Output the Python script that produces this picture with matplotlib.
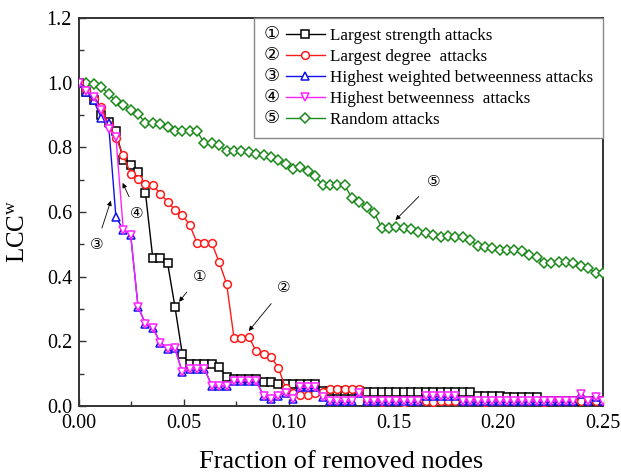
import numpy as np
import matplotlib
matplotlib.use("Agg")
import matplotlib.pyplot as plt
from matplotlib.legend_handler import HandlerLine2D
from matplotlib.text import Text

plt.rcParams['font.family'] = ['Liberation Serif', 'DejaVu Sans']
plt.rcParams['mathtext.fontset'] = 'custom'
plt.rcParams['mathtext.rm'] = 'Liberation Serif'
plt.rcParams['mathtext.it'] = 'Liberation Serif:italic'

# ---------------- data ----------------
n_nodes = 284  # fraction of removed nodes = k / n_nodes

strength = [1.0, 0.97, 0.945, 0.90, 0.877, 0.849, 0.762, 0.745, 0.724, 0.66,
            0.457, 0.457, 0.442, 0.307, 0.16, 0.13, 0.13, 0.13, 0.13, 0.12,
            0.09, 0.083, 0.083, 0.083, 0.083, 0.075, 0.075, 0.068, 0.068, 0.068,
            0.068, 0.068, 0.068, 0.045, 0.045, 0.045, 0.045, 0.045, 0.045, 0.042,
            0.042, 0.042, 0.042, 0.042, 0.042, 0.042, 0.042, 0.042, 0.042, 0.042,
            0.042, 0.042, 0.042, 0.042, 0.032, 0.032, 0.032, 0.032, 0.027, 0.027,
            0.027, 0.027, 0.027, 0.015, 0.015, 0.015, 0.015, 0.015, 0.015, 0.015,
            0.015, 0.015]

degree = [1.0, 0.975, 0.95, 0.924, 0.87, 0.83, 0.775, 0.719, 0.702, 0.688,
          0.683, 0.657, 0.632, 0.606, 0.591, 0.56, 0.504, 0.504, 0.504, 0.444,
          0.378, 0.211, 0.211, 0.214, 0.17, 0.16, 0.153, 0.119, 0.055, 0.04,
          0.035, 0.035, 0.04, 0.042, 0.052, 0.052, 0.052, 0.052, 0.052, 0.015,
          0.015, 0.012, 0.015, 0.015, 0.01, 0.015, 0.015, 0.015, 0.012, 0.015,
          0.015, 0.015, 0.015, 0.015, 0.015, 0.012, 0.015, 0.015, 0.015, 0.015,
          0.015, 0.015, 0.015, 0.012, 0.015, 0.015, 0.015, 0.015, 0.015, 0.015,
          0.015, 0.015]

w_betweenness = [1.0, 0.97, 0.945, 0.891, 0.875, 0.585, 0.545, 0.53, 0.307, 0.255,
                 0.242, 0.196, 0.175, 0.178, 0.104, 0.115, 0.115, 0.115, 0.0625, 0.0625,
                 0.0625, 0.078, 0.078, 0.078, 0.078, 0.032, 0.022, 0.032, 0.04, 0.022,
                 0.058, 0.058, 0.058, 0.028, 0.016, 0.016, 0.016, 0.016, 0.04, 0.016,
                 0.016, 0.016, 0.016, 0.016, 0.016, 0.016, 0.016, 0.032, 0.032, 0.032,
                 0.032, 0.032, 0.016, 0.016, 0.016, 0.016, 0.016, 0.016, 0.016, 0.016,
                 0.016, 0.016, 0.016, 0.016, 0.016, 0.016, 0.016, 0.016, 0.037, 0.016,
                 0.028, 0.016]

betweenness = [1.0, 0.975, 0.955, 0.914, 0.857, 0.832, 0.545, 0.53, 0.307, 0.255,
               0.242, 0.196, 0.175, 0.178, 0.104, 0.115, 0.115, 0.115, 0.0625, 0.0625,
               0.0625, 0.078, 0.078, 0.078, 0.078, 0.032, 0.022, 0.032, 0.04, 0.022,
               0.058, 0.058, 0.058, 0.028, 0.016, 0.016, 0.016, 0.016, 0.04, 0.016,
               0.016, 0.016, 0.016, 0.016, 0.016, 0.016, 0.016, 0.032, 0.032, 0.032,
               0.032, 0.032, 0.016, 0.016, 0.016, 0.016, 0.016, 0.016, 0.016, 0.016,
               0.016, 0.016, 0.016, 0.016, 0.016, 0.016, 0.016, 0.016, 0.037, 0.016,
               0.028, 0.016]

random_att = [1.0, 0.996, 0.988, 0.965, 0.944, 0.931, 0.914, 0.904, 0.875, 0.875,
              0.871, 0.862, 0.849, 0.849, 0.849, 0.849, 0.813, 0.813, 0.806, 0.789,
              0.789, 0.789, 0.786, 0.78, 0.775, 0.770, 0.76, 0.75, 0.734, 0.739,
              0.726, 0.711, 0.685, 0.685, 0.685, 0.683, 0.642, 0.632, 0.616, 0.598,
              0.552, 0.550, 0.555, 0.550, 0.547, 0.539, 0.534, 0.529, 0.524, 0.526,
              0.524, 0.524, 0.514, 0.495, 0.493, 0.490, 0.483, 0.483, 0.483, 0.478,
              0.468, 0.462, 0.442, 0.442, 0.444, 0.444, 0.442, 0.432, 0.427, 0.411,
              0.411]

labels = ["Largest strength attacks", "Largest degree  attacks",
          "Highest weighted betweenness attacks", "Highest betweenness  attacks",
          "Random attacks"]
tags = ["\u2460", "\u2461", "\u2462", "\u2463", "\u2464"]

x_main = np.arange(len(strength)) / n_nodes
x_rand = np.arange(1, len(random_att) + 1) / n_nodes

# ---------------- figure ----------------
fig = plt.figure(figsize=(6.21, 4.75), dpi=100)
ax = fig.add_axes([79 / 621, 1 - 406 / 475, (603 - 79) / 621, (406 - 18) / 475])

ms = 5.6
mew = 1.1
common = dict(lw=1.0, ms=ms, mew=mew, mfc='white')
l5, = ax.plot(x_rand, random_att, color='#1a8a1a', marker='D', ms=5.4, lw=1.0, mew=mew, mfc='white', zorder=3)
l1, = ax.plot(x_main, strength, color='black', marker='s', zorder=3, **common)
l2, = ax.plot(x_main, degree, color='#ff1a1a', marker='o', zorder=4, **common)
l3, = ax.plot(x_main, w_betweenness, color='#1010ee', marker='^', zorder=5, **common)
l4, = ax.plot(x_main, betweenness, color='#ff20ff', marker='v', zorder=6, **common)

ax.set_xlim(0, 0.25)
ax.set_ylim(0, 1.2)
ax.set_xticks(np.arange(0, 0.2501, 0.05))
ax.set_xticks(np.arange(0.025, 0.25, 0.05), minor=True)
ax.set_yticks(np.arange(0, 1.201, 0.2))
ax.set_yticks(np.arange(0.1, 1.2, 0.2), minor=True)
ax.xaxis.set_major_formatter(plt.FormatStrFormatter('%.2f'))
ax.yaxis.set_major_formatter(plt.FormatStrFormatter('%.1f'))
ax.tick_params(which='both', direction='in', top=False, right=False,
               labelsize=14.5, width=1.0, color='#333333')
ax.tick_params(which='major', length=5)
ax.tick_params(which='minor', length=3.5)
ax.tick_params(axis='x', pad=6)
ax.tick_params(axis='y', pad=5)
for s in ax.spines.values():
    s.set_linewidth(1.4)
    s.set_color('#333333')

ax.set_xlabel("Fraction of removed nodes", fontsize=19, labelpad=13)
ax.set_ylabel("LCC$^{\\mathrm{w}}$", fontsize=18)
ax.yaxis.set_label_coords(-0.095, 0.45)


class TaggedHandler(HandlerLine2D):
    def __init__(self, tag, **kw):
        super().__init__(**kw)
        self.tag = tag

    def create_artists(self, legend, orig_handle, xdescent, ydescent,
                       width, height, fontsize, trans):
        frac = 0.64
        off = width * (1 - frac)
        arts = super().create_artists(legend, orig_handle, xdescent - off, ydescent,
                                      width * frac, height, fontsize, trans)
        t = Text(x=-xdescent + off * 0.33, y=-ydescent + height / 2, text=self.tag,
                 ha='center', va='center', fontsize=fontsize * 1.05,
                 fontfamily=['DejaVu Sans'], transform=trans)
        return list(arts) + [t]


handles = [l1, l2, l3, l4, l5]
leg = ax.legend(handles, labels, loc='upper right', bbox_to_anchor=(1, 1),
                borderaxespad=0, fontsize=12.3, frameon=True, fancybox=False,
                edgecolor='#888888', framealpha=1, handlelength=3.5,
                handletextpad=0.3, labelspacing=0.29, borderpad=0.6,
                handler_map={h: TaggedHandler(t) for h, t in zip(handles, tags)})
leg.get_frame().set_linewidth(1.0)

# annotations with arrows
ann = dict(fontsize=11, family=['DejaVu Sans'], ha='center', va='center')
arrow = dict(arrowstyle='-|>', color='black', lw=0.6, mutation_scale=7,
             shrinkA=5, shrinkB=0)
ax.annotate("\u2460", xy=(0.0477, 0.322), xytext=(0.0574, 0.401), arrowprops=arrow, **ann)
ax.annotate("\u2461", xy=(0.081, 0.232), xytext=(0.0978, 0.365), arrowprops=arrow, **ann)
ax.annotate("\u2462", xy=(0.0152, 0.635), xytext=(0.0083, 0.498), arrowprops=arrow, **ann)
ax.annotate("\u2463", xy=(0.0208, 0.69), xytext=(0.0276, 0.596), arrowprops=arrow, **ann)
ax.annotate("\u2464", xy=(0.151, 0.575), xytext=(0.169, 0.693), arrowprops=arrow, **ann)

fig.savefig("out.png", dpi=100)
